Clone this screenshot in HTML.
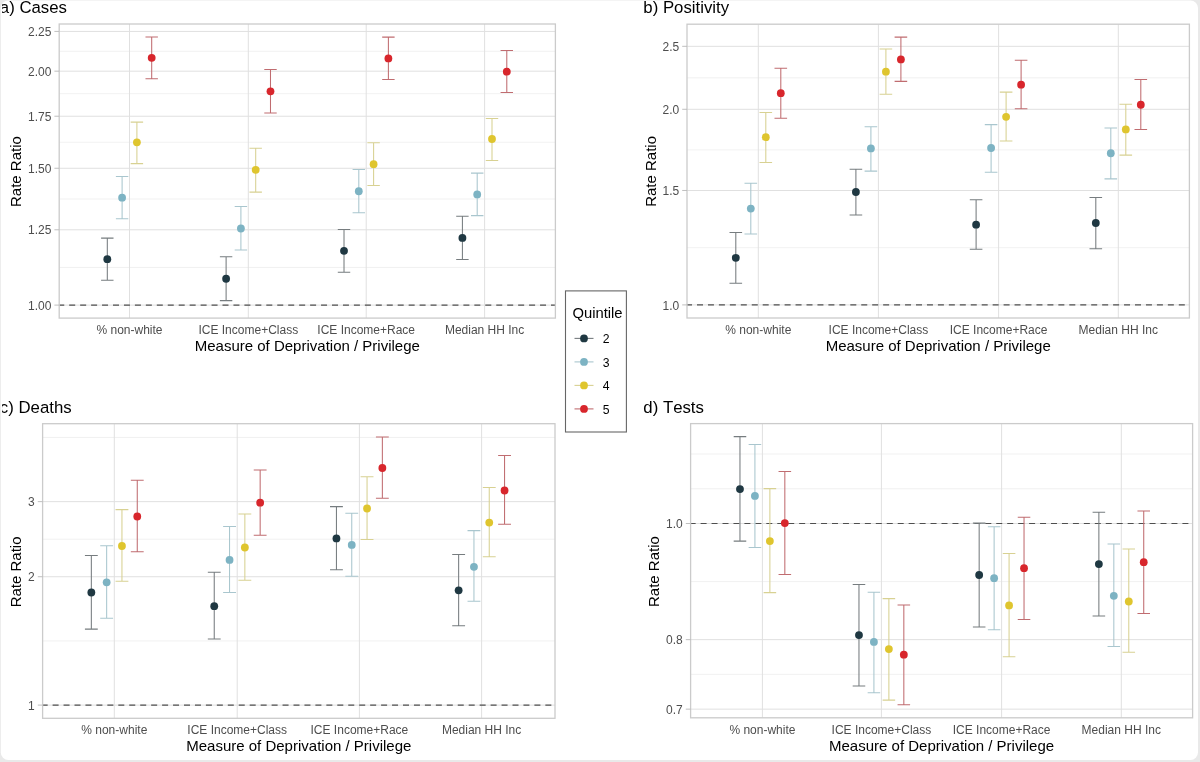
<!DOCTYPE html>
<html><head><meta charset="utf-8"><title>Rate Ratios</title>
<style>html,body{margin:0;padding:0;background:#fff;} svg{display:block;font-family:"Liberation Sans", sans-serif;will-change:transform;} text{font-family:"Liberation Sans", sans-serif;font-kerning:none;font-feature-settings:'kern' 0;}</style>
</head><body>
<svg width="1200" height="762" viewBox="0 0 1200 762">
<rect x="0" y="0" width="1200" height="762" fill="#e9e9e9"/>
<rect x="0.8" y="0.6" width="1197.2" height="759.4" rx="7.5" ry="7.5" fill="#ffffff"/>
<clipPath id="tclip" clipPathUnits="userSpaceOnUse"><rect x="2.0" y="0" width="1100" height="762"/></clipPath>
<clipPath id="cpa"><rect x="59.2" y="24.0" width="496.2" height="294.1"/></clipPath>
<g clip-path="url(#cpa)"><line x1="59.2" x2="555.4" y1="267.44" y2="267.44" stroke="#eeeeee" stroke-width="0.8"/><line x1="59.2" x2="555.4" y1="199.02" y2="199.02" stroke="#eeeeee" stroke-width="0.8"/><line x1="59.2" x2="555.4" y1="142.24" y2="142.24" stroke="#eeeeee" stroke-width="0.8"/><line x1="59.2" x2="555.4" y1="93.70" y2="93.70" stroke="#eeeeee" stroke-width="0.8"/><line x1="59.2" x2="555.4" y1="51.29" y2="51.29" stroke="#eeeeee" stroke-width="0.8"/><line x1="59.2" x2="555.4" y1="305.10" y2="305.10" stroke="#e0e0e0" stroke-width="1"/><line x1="59.2" x2="555.4" y1="229.79" y2="229.79" stroke="#e0e0e0" stroke-width="1"/><line x1="59.2" x2="555.4" y1="168.26" y2="168.26" stroke="#e0e0e0" stroke-width="1"/><line x1="59.2" x2="555.4" y1="116.23" y2="116.23" stroke="#e0e0e0" stroke-width="1"/><line x1="59.2" x2="555.4" y1="71.16" y2="71.16" stroke="#e0e0e0" stroke-width="1"/><line x1="59.2" x2="555.4" y1="31.41" y2="31.41" stroke="#e0e0e0" stroke-width="1"/><line x1="129.5" x2="129.5" y1="24.0" y2="318.1" stroke="#e0e0e0" stroke-width="1"/><line x1="248.3" x2="248.3" y1="24.0" y2="318.1" stroke="#e0e0e0" stroke-width="1"/><line x1="366.2" x2="366.2" y1="24.0" y2="318.1" stroke="#e0e0e0" stroke-width="1"/><line x1="484.6" x2="484.6" y1="24.0" y2="318.1" stroke="#e0e0e0" stroke-width="1"/><line x1="59.2" x2="555.4" y1="305.10" y2="305.10" stroke="#4f4f4f" stroke-width="1.15" stroke-dasharray="6 4.95" stroke-dashoffset="0.95"/></g>
<rect x="59.2" y="24.0" width="496.20" height="294.10" fill="none" stroke="#cbcbcb" stroke-width="1.3"/>
<line x1="54.40" x2="59.2" y1="305.10" y2="305.10" stroke="#b8b8b8" stroke-width="0.9"/>
<text x="51.40" y="309.70" text-anchor="end" font-size="12" fill="#4d4d4d">1.00</text>
<line x1="54.40" x2="59.2" y1="229.79" y2="229.79" stroke="#b8b8b8" stroke-width="0.9"/>
<text x="51.40" y="234.39" text-anchor="end" font-size="12" fill="#4d4d4d">1.25</text>
<line x1="54.40" x2="59.2" y1="168.26" y2="168.26" stroke="#b8b8b8" stroke-width="0.9"/>
<text x="51.40" y="172.86" text-anchor="end" font-size="12" fill="#4d4d4d">1.50</text>
<line x1="54.40" x2="59.2" y1="116.23" y2="116.23" stroke="#b8b8b8" stroke-width="0.9"/>
<text x="51.40" y="120.83" text-anchor="end" font-size="12" fill="#4d4d4d">1.75</text>
<line x1="54.40" x2="59.2" y1="71.16" y2="71.16" stroke="#b8b8b8" stroke-width="0.9"/>
<text x="51.40" y="75.76" text-anchor="end" font-size="12" fill="#4d4d4d">2.00</text>
<line x1="54.40" x2="59.2" y1="31.41" y2="31.41" stroke="#b8b8b8" stroke-width="0.9"/>
<text x="51.40" y="36.01" text-anchor="end" font-size="12" fill="#4d4d4d">2.25</text>
<text x="129.5" y="334.00" text-anchor="middle" font-size="12" fill="#4d4d4d">% non-white</text>
<text x="248.3" y="334.00" text-anchor="middle" font-size="12" fill="#4d4d4d">ICE Income+Class</text>
<text x="366.2" y="334.00" text-anchor="middle" font-size="12" fill="#4d4d4d">ICE Income+Race</text>
<text x="484.6" y="334.00" text-anchor="middle" font-size="12" fill="#4d4d4d">Median HH Inc</text>
<text x="307.30" y="351.00" text-anchor="middle" font-size="15" fill="#000">Measure of Deprivation / Privilege</text>
<text transform="translate(21.1,171.55) rotate(-90)" x="0" y="0" text-anchor="middle" font-size="15" fill="#000">Rate Ratio</text>
<text x="-0.2" y="12.6" font-size="16.8" fill="#000" clip-path="url(#tclip)">a) Cases</text>
<path d="M101.09 238.10H113.52M107.31 238.10V280.20M101.09 280.20H113.52" stroke="#767c7f" stroke-width="1.05" fill="none"/>
<path d="M115.89 176.50H128.32M122.10 176.50V218.75M115.89 218.75H128.32" stroke="#a9c6ce" stroke-width="1.05" fill="none"/>
<path d="M130.68 122.10H143.11M136.90 122.10V163.60M130.68 163.60H143.11" stroke="#d8d192" stroke-width="1.05" fill="none"/>
<path d="M145.48 36.90H157.91M151.69 36.90V78.80M145.48 78.80H157.91" stroke="#c06c70" stroke-width="1.05" fill="none"/>
<circle cx="107.31" cy="259.20" r="3.9" fill="#1f3842"/>
<circle cx="122.10" cy="197.70" r="3.9" fill="#7db3c3"/>
<circle cx="136.90" cy="142.30" r="3.9" fill="#dfc52e"/>
<circle cx="151.69" cy="57.80" r="3.9" fill="#d8262c"/>
<path d="M219.89 256.70H232.32M226.11 256.70V300.60M219.89 300.60H232.32" stroke="#767c7f" stroke-width="1.05" fill="none"/>
<path d="M234.69 206.50H247.12M240.90 206.50V250.00M234.69 250.00H247.12" stroke="#a9c6ce" stroke-width="1.05" fill="none"/>
<path d="M249.48 148.20H261.91M255.70 148.20V192.10M249.48 192.10H261.91" stroke="#d8d192" stroke-width="1.05" fill="none"/>
<path d="M264.28 69.40H276.71M270.49 69.40V113.00M264.28 113.00H276.71" stroke="#c06c70" stroke-width="1.05" fill="none"/>
<circle cx="226.11" cy="278.75" r="3.9" fill="#1f3842"/>
<circle cx="240.90" cy="228.50" r="3.9" fill="#7db3c3"/>
<circle cx="255.70" cy="169.80" r="3.9" fill="#dfc52e"/>
<circle cx="270.49" cy="91.30" r="3.9" fill="#d8262c"/>
<path d="M337.79 229.40H350.22M344.01 229.40V272.30M337.79 272.30H350.22" stroke="#767c7f" stroke-width="1.05" fill="none"/>
<path d="M352.59 169.40H365.02M358.80 169.40V212.70M352.59 212.70H365.02" stroke="#a9c6ce" stroke-width="1.05" fill="none"/>
<path d="M367.38 142.75H379.81M373.60 142.75V185.40M367.38 185.40H379.81" stroke="#d8d192" stroke-width="1.05" fill="none"/>
<path d="M382.18 37.10H394.61M388.39 37.10V79.40M382.18 79.40H394.61" stroke="#c06c70" stroke-width="1.05" fill="none"/>
<circle cx="344.01" cy="250.80" r="3.9" fill="#1f3842"/>
<circle cx="358.80" cy="191.25" r="3.9" fill="#7db3c3"/>
<circle cx="373.60" cy="164.20" r="3.9" fill="#dfc52e"/>
<circle cx="388.39" cy="58.40" r="3.9" fill="#d8262c"/>
<path d="M456.19 216.25H468.62M462.41 216.25V259.40M456.19 259.40H468.62" stroke="#767c7f" stroke-width="1.05" fill="none"/>
<path d="M470.99 173.10H483.42M477.20 173.10V215.60M470.99 215.60H483.42" stroke="#a9c6ce" stroke-width="1.05" fill="none"/>
<path d="M485.78 118.40H498.21M492.00 118.40V160.50M485.78 160.50H498.21" stroke="#d8d192" stroke-width="1.05" fill="none"/>
<path d="M500.58 50.50H513.01M506.79 50.50V92.50M500.58 92.50H513.01" stroke="#c06c70" stroke-width="1.05" fill="none"/>
<circle cx="462.41" cy="237.90" r="3.9" fill="#1f3842"/>
<circle cx="477.20" cy="194.40" r="3.9" fill="#7db3c3"/>
<circle cx="492.00" cy="139.00" r="3.9" fill="#dfc52e"/>
<circle cx="506.79" cy="71.70" r="3.9" fill="#d8262c"/>
<clipPath id="cpb"><rect x="687.0" y="24.2" width="502.4000000000001" height="293.8"/></clipPath>
<g clip-path="url(#cpb)"><line x1="687.0" x2="1189.4" y1="247.69" y2="247.69" stroke="#eeeeee" stroke-width="0.8"/><line x1="687.0" x2="1189.4" y1="149.89" y2="149.89" stroke="#eeeeee" stroke-width="0.8"/><line x1="687.0" x2="1189.4" y1="77.81" y2="77.81" stroke="#eeeeee" stroke-width="0.8"/><line x1="687.0" x2="1189.4" y1="304.90" y2="304.90" stroke="#e0e0e0" stroke-width="1"/><line x1="687.0" x2="1189.4" y1="190.48" y2="190.48" stroke="#e0e0e0" stroke-width="1"/><line x1="687.0" x2="1189.4" y1="109.29" y2="109.29" stroke="#e0e0e0" stroke-width="1"/><line x1="687.0" x2="1189.4" y1="46.32" y2="46.32" stroke="#e0e0e0" stroke-width="1"/><line x1="758.3" x2="758.3" y1="24.2" y2="318.0" stroke="#e0e0e0" stroke-width="1"/><line x1="878.4" x2="878.4" y1="24.2" y2="318.0" stroke="#e0e0e0" stroke-width="1"/><line x1="998.6" x2="998.6" y1="24.2" y2="318.0" stroke="#e0e0e0" stroke-width="1"/><line x1="1118.3" x2="1118.3" y1="24.2" y2="318.0" stroke="#e0e0e0" stroke-width="1"/><line x1="687.0" x2="1189.4" y1="304.90" y2="304.90" stroke="#4f4f4f" stroke-width="1.15" stroke-dasharray="6 4.95" stroke-dashoffset="0.95"/></g>
<rect x="687.0" y="24.2" width="502.40" height="293.80" fill="none" stroke="#cbcbcb" stroke-width="1.3"/>
<line x1="682.20" x2="687.0" y1="304.90" y2="304.90" stroke="#b8b8b8" stroke-width="0.9"/>
<text x="679.20" y="309.50" text-anchor="end" font-size="12" fill="#4d4d4d">1.0</text>
<line x1="682.20" x2="687.0" y1="190.48" y2="190.48" stroke="#b8b8b8" stroke-width="0.9"/>
<text x="679.20" y="195.08" text-anchor="end" font-size="12" fill="#4d4d4d">1.5</text>
<line x1="682.20" x2="687.0" y1="109.29" y2="109.29" stroke="#b8b8b8" stroke-width="0.9"/>
<text x="679.20" y="113.89" text-anchor="end" font-size="12" fill="#4d4d4d">2.0</text>
<line x1="682.20" x2="687.0" y1="46.32" y2="46.32" stroke="#b8b8b8" stroke-width="0.9"/>
<text x="679.20" y="50.92" text-anchor="end" font-size="12" fill="#4d4d4d">2.5</text>
<text x="758.3" y="333.90" text-anchor="middle" font-size="12" fill="#4d4d4d">% non-white</text>
<text x="878.4" y="333.90" text-anchor="middle" font-size="12" fill="#4d4d4d">ICE Income+Class</text>
<text x="998.6" y="333.90" text-anchor="middle" font-size="12" fill="#4d4d4d">ICE Income+Race</text>
<text x="1118.3" y="333.90" text-anchor="middle" font-size="12" fill="#4d4d4d">Median HH Inc</text>
<text x="938.20" y="350.90" text-anchor="middle" font-size="15" fill="#000">Measure of Deprivation / Privilege</text>
<text transform="translate(655.8,171.40) rotate(-90)" x="0" y="0" text-anchor="middle" font-size="15" fill="#000">Rate Ratio</text>
<text x="643.3" y="12.5" font-size="16.8" fill="#000">b) Positivity</text>
<path d="M729.50 232.50H742.10M735.80 232.50V283.30M729.50 283.30H742.10" stroke="#767c7f" stroke-width="1.05" fill="none"/>
<path d="M744.50 183.30H757.10M750.80 183.30V233.90M744.50 233.90H757.10" stroke="#a9c6ce" stroke-width="1.05" fill="none"/>
<path d="M759.50 112.55H772.10M765.80 112.55V162.50M759.50 162.50H772.10" stroke="#d8d192" stroke-width="1.05" fill="none"/>
<path d="M774.50 68.30H787.10M780.80 68.30V118.20M774.50 118.20H787.10" stroke="#c06c70" stroke-width="1.05" fill="none"/>
<circle cx="735.80" cy="257.80" r="3.9" fill="#1f3842"/>
<circle cx="750.80" cy="208.60" r="3.9" fill="#7db3c3"/>
<circle cx="765.80" cy="137.20" r="3.9" fill="#dfc52e"/>
<circle cx="780.80" cy="93.15" r="3.9" fill="#d8262c"/>
<path d="M849.60 169.20H862.20M855.90 169.20V215.00M849.60 215.00H862.20" stroke="#767c7f" stroke-width="1.05" fill="none"/>
<path d="M864.60 126.70H877.20M870.90 126.70V171.10M864.60 171.10H877.20" stroke="#a9c6ce" stroke-width="1.05" fill="none"/>
<path d="M879.60 48.90H892.20M885.90 48.90V94.20M879.60 94.20H892.20" stroke="#d8d192" stroke-width="1.05" fill="none"/>
<path d="M894.60 37.10H907.20M900.90 37.10V81.35M894.60 81.35H907.20" stroke="#c06c70" stroke-width="1.05" fill="none"/>
<circle cx="855.90" cy="192.00" r="3.9" fill="#1f3842"/>
<circle cx="870.90" cy="148.40" r="3.9" fill="#7db3c3"/>
<circle cx="885.90" cy="71.65" r="3.9" fill="#dfc52e"/>
<circle cx="900.90" cy="59.40" r="3.9" fill="#d8262c"/>
<path d="M969.80 199.80H982.40M976.10 199.80V249.30M969.80 249.30H982.40" stroke="#767c7f" stroke-width="1.05" fill="none"/>
<path d="M984.80 124.60H997.40M991.10 124.60V172.30M984.80 172.30H997.40" stroke="#a9c6ce" stroke-width="1.05" fill="none"/>
<path d="M999.80 92.10H1012.40M1006.10 92.10V141.00M999.80 141.00H1012.40" stroke="#d8d192" stroke-width="1.05" fill="none"/>
<path d="M1014.80 60.30H1027.40M1021.10 60.30V108.75M1014.80 108.75H1027.40" stroke="#c06c70" stroke-width="1.05" fill="none"/>
<circle cx="976.10" cy="224.70" r="3.9" fill="#1f3842"/>
<circle cx="991.10" cy="148.00" r="3.9" fill="#7db3c3"/>
<circle cx="1006.10" cy="116.80" r="3.9" fill="#dfc52e"/>
<circle cx="1021.10" cy="84.70" r="3.9" fill="#d8262c"/>
<path d="M1089.50 197.50H1102.10M1095.80 197.50V248.70M1089.50 248.70H1102.10" stroke="#767c7f" stroke-width="1.05" fill="none"/>
<path d="M1104.50 127.90H1117.10M1110.80 127.90V178.85M1104.50 178.85H1117.10" stroke="#a9c6ce" stroke-width="1.05" fill="none"/>
<path d="M1119.50 104.30H1132.10M1125.80 104.30V155.10M1119.50 155.10H1132.10" stroke="#d8d192" stroke-width="1.05" fill="none"/>
<path d="M1134.50 79.45H1147.10M1140.80 79.45V129.40M1134.50 129.40H1147.10" stroke="#c06c70" stroke-width="1.05" fill="none"/>
<circle cx="1095.80" cy="223.00" r="3.9" fill="#1f3842"/>
<circle cx="1110.80" cy="153.25" r="3.9" fill="#7db3c3"/>
<circle cx="1125.80" cy="129.40" r="3.9" fill="#dfc52e"/>
<circle cx="1140.80" cy="104.75" r="3.9" fill="#d8262c"/>
<clipPath id="cpc"><rect x="42.6" y="423.7" width="512.4" height="294.59999999999997"/></clipPath>
<g clip-path="url(#cpc)"><line x1="42.6" x2="555.0" y1="640.91" y2="640.91" stroke="#eeeeee" stroke-width="0.8"/><line x1="42.6" x2="555.0" y1="539.18" y2="539.18" stroke="#eeeeee" stroke-width="0.8"/><line x1="42.6" x2="555.0" y1="437.45" y2="437.45" stroke="#eeeeee" stroke-width="0.8"/><line x1="42.6" x2="555.0" y1="705.10" y2="705.10" stroke="#e0e0e0" stroke-width="1"/><line x1="42.6" x2="555.0" y1="576.73" y2="576.73" stroke="#e0e0e0" stroke-width="1"/><line x1="42.6" x2="555.0" y1="501.64" y2="501.64" stroke="#e0e0e0" stroke-width="1"/><line x1="114.3" x2="114.3" y1="423.7" y2="718.3" stroke="#e0e0e0" stroke-width="1"/><line x1="237.2" x2="237.2" y1="423.7" y2="718.3" stroke="#e0e0e0" stroke-width="1"/><line x1="359.4" x2="359.4" y1="423.7" y2="718.3" stroke="#e0e0e0" stroke-width="1"/><line x1="481.6" x2="481.6" y1="423.7" y2="718.3" stroke="#e0e0e0" stroke-width="1"/><line x1="42.6" x2="555.0" y1="705.10" y2="705.10" stroke="#4f4f4f" stroke-width="1.15" stroke-dasharray="6 4.95" stroke-dashoffset="0.95"/></g>
<rect x="42.6" y="423.7" width="512.40" height="294.60" fill="none" stroke="#cbcbcb" stroke-width="1.3"/>
<line x1="37.80" x2="42.6" y1="705.10" y2="705.10" stroke="#b8b8b8" stroke-width="0.9"/>
<text x="34.80" y="709.70" text-anchor="end" font-size="12" fill="#4d4d4d">1</text>
<line x1="37.80" x2="42.6" y1="576.73" y2="576.73" stroke="#b8b8b8" stroke-width="0.9"/>
<text x="34.80" y="581.33" text-anchor="end" font-size="12" fill="#4d4d4d">2</text>
<line x1="37.80" x2="42.6" y1="501.64" y2="501.64" stroke="#b8b8b8" stroke-width="0.9"/>
<text x="34.80" y="506.24" text-anchor="end" font-size="12" fill="#4d4d4d">3</text>
<text x="114.3" y="734.20" text-anchor="middle" font-size="12" fill="#4d4d4d">% non-white</text>
<text x="237.2" y="734.20" text-anchor="middle" font-size="12" fill="#4d4d4d">ICE Income+Class</text>
<text x="359.4" y="734.20" text-anchor="middle" font-size="12" fill="#4d4d4d">ICE Income+Race</text>
<text x="481.6" y="734.20" text-anchor="middle" font-size="12" fill="#4d4d4d">Median HH Inc</text>
<text x="298.80" y="751.20" text-anchor="middle" font-size="15" fill="#000">Measure of Deprivation / Privilege</text>
<text transform="translate(21.2,571.90) rotate(-90)" x="0" y="0" text-anchor="middle" font-size="15" fill="#000">Rate Ratio</text>
<text x="-0.2" y="412.8" font-size="16.8" fill="#000" clip-path="url(#tclip)">c) Deaths</text>
<path d="M84.92 555.50H97.77M91.34 555.50V629.10M84.92 629.10H97.77" stroke="#767c7f" stroke-width="1.05" fill="none"/>
<path d="M100.22 545.80H113.08M106.65 545.80V618.30M100.22 618.30H113.08" stroke="#a9c6ce" stroke-width="1.05" fill="none"/>
<path d="M115.52 509.60H128.38M121.95 509.60V581.25M115.52 581.25H128.38" stroke="#d8d192" stroke-width="1.05" fill="none"/>
<path d="M130.83 480.30H143.68M137.26 480.30V551.80M130.83 551.80H143.68" stroke="#c06c70" stroke-width="1.05" fill="none"/>
<circle cx="91.34" cy="592.50" r="3.9" fill="#1f3842"/>
<circle cx="106.65" cy="582.30" r="3.9" fill="#7db3c3"/>
<circle cx="121.95" cy="546.00" r="3.9" fill="#dfc52e"/>
<circle cx="137.26" cy="516.50" r="3.9" fill="#d8262c"/>
<path d="M207.82 572.30H220.67M214.24 572.30V638.90M207.82 638.90H220.67" stroke="#767c7f" stroke-width="1.05" fill="none"/>
<path d="M223.12 526.50H235.98M229.55 526.50V592.50M223.12 592.50H235.98" stroke="#a9c6ce" stroke-width="1.05" fill="none"/>
<path d="M238.42 513.90H251.28M244.85 513.90V580.20M238.42 580.20H251.28" stroke="#d8d192" stroke-width="1.05" fill="none"/>
<path d="M253.73 469.90H266.58M260.16 469.90V535.20M253.73 535.20H266.58" stroke="#c06c70" stroke-width="1.05" fill="none"/>
<circle cx="214.24" cy="606.20" r="3.9" fill="#1f3842"/>
<circle cx="229.55" cy="559.90" r="3.9" fill="#7db3c3"/>
<circle cx="244.85" cy="547.50" r="3.9" fill="#dfc52e"/>
<circle cx="260.16" cy="502.70" r="3.9" fill="#d8262c"/>
<path d="M330.02 506.60H342.87M336.44 506.60V569.80M330.02 569.80H342.87" stroke="#767c7f" stroke-width="1.05" fill="none"/>
<path d="M345.32 513.30H358.18M351.75 513.30V576.30M345.32 576.30H358.18" stroke="#a9c6ce" stroke-width="1.05" fill="none"/>
<path d="M360.62 476.70H373.48M367.05 476.70V539.50M360.62 539.50H373.48" stroke="#d8d192" stroke-width="1.05" fill="none"/>
<path d="M375.93 437.00H388.78M382.36 437.00V498.30M375.93 498.30H388.78" stroke="#c06c70" stroke-width="1.05" fill="none"/>
<circle cx="336.44" cy="538.40" r="3.9" fill="#1f3842"/>
<circle cx="351.75" cy="544.90" r="3.9" fill="#7db3c3"/>
<circle cx="367.05" cy="508.50" r="3.9" fill="#dfc52e"/>
<circle cx="382.36" cy="468.00" r="3.9" fill="#d8262c"/>
<path d="M452.22 554.40H465.07M458.64 554.40V625.70M452.22 625.70H465.07" stroke="#767c7f" stroke-width="1.05" fill="none"/>
<path d="M467.52 530.60H480.38M473.95 530.60V601.20M467.52 601.20H480.38" stroke="#a9c6ce" stroke-width="1.05" fill="none"/>
<path d="M482.82 487.50H495.68M489.25 487.50V556.80M482.82 556.80H495.68" stroke="#d8d192" stroke-width="1.05" fill="none"/>
<path d="M498.13 455.40H510.98M504.56 455.40V524.30M498.13 524.30H510.98" stroke="#c06c70" stroke-width="1.05" fill="none"/>
<circle cx="458.64" cy="590.35" r="3.9" fill="#1f3842"/>
<circle cx="473.95" cy="566.80" r="3.9" fill="#7db3c3"/>
<circle cx="489.25" cy="522.60" r="3.9" fill="#dfc52e"/>
<circle cx="504.56" cy="490.50" r="3.9" fill="#d8262c"/>
<clipPath id="cpd"><rect x="690.6" y="423.6" width="501.9999999999999" height="294.19999999999993"/></clipPath>
<g clip-path="url(#cpd)"><line x1="690.6" x2="1192.6" y1="674.40" y2="674.40" stroke="#eeeeee" stroke-width="0.8"/><line x1="690.6" x2="1192.6" y1="581.57" y2="581.57" stroke="#eeeeee" stroke-width="0.8"/><line x1="690.6" x2="1192.6" y1="488.75" y2="488.75" stroke="#eeeeee" stroke-width="0.8"/><line x1="690.6" x2="1192.6" y1="454.00" y2="454.00" stroke="#eeeeee" stroke-width="0.8"/><line x1="690.6" x2="1192.6" y1="709.15" y2="709.15" stroke="#e0e0e0" stroke-width="1"/><line x1="690.6" x2="1192.6" y1="639.65" y2="639.65" stroke="#e0e0e0" stroke-width="1"/><line x1="690.6" x2="1192.6" y1="523.50" y2="523.50" stroke="#e0e0e0" stroke-width="1"/><line x1="762.4" x2="762.4" y1="423.6" y2="717.8" stroke="#e0e0e0" stroke-width="1"/><line x1="881.4" x2="881.4" y1="423.6" y2="717.8" stroke="#e0e0e0" stroke-width="1"/><line x1="1001.6" x2="1001.6" y1="423.6" y2="717.8" stroke="#e0e0e0" stroke-width="1"/><line x1="1121.3" x2="1121.3" y1="423.6" y2="717.8" stroke="#e0e0e0" stroke-width="1"/><line x1="690.6" x2="1192.6" y1="523.50" y2="523.50" stroke="#4f4f4f" stroke-width="1.15" stroke-dasharray="6 4.95" stroke-dashoffset="0.95"/></g>
<rect x="690.6" y="423.6" width="502.00" height="294.20" fill="none" stroke="#cbcbcb" stroke-width="1.3"/>
<line x1="685.80" x2="690.6" y1="709.15" y2="709.15" stroke="#b8b8b8" stroke-width="0.9"/>
<text x="682.80" y="713.75" text-anchor="end" font-size="12" fill="#4d4d4d">0.7</text>
<line x1="685.80" x2="690.6" y1="639.65" y2="639.65" stroke="#b8b8b8" stroke-width="0.9"/>
<text x="682.80" y="644.25" text-anchor="end" font-size="12" fill="#4d4d4d">0.8</text>
<line x1="685.80" x2="690.6" y1="523.50" y2="523.50" stroke="#b8b8b8" stroke-width="0.9"/>
<text x="682.80" y="528.10" text-anchor="end" font-size="12" fill="#4d4d4d">1.0</text>
<text x="762.4" y="733.70" text-anchor="middle" font-size="12" fill="#4d4d4d">% non-white</text>
<text x="881.4" y="733.70" text-anchor="middle" font-size="12" fill="#4d4d4d">ICE Income+Class</text>
<text x="1001.6" y="733.70" text-anchor="middle" font-size="12" fill="#4d4d4d">ICE Income+Race</text>
<text x="1121.3" y="733.70" text-anchor="middle" font-size="12" fill="#4d4d4d">Median HH Inc</text>
<text x="941.60" y="750.70" text-anchor="middle" font-size="15" fill="#000">Measure of Deprivation / Privilege</text>
<text transform="translate(659.3,571.60) rotate(-90)" x="0" y="0" text-anchor="middle" font-size="15" fill="#000">Rate Ratio</text>
<text x="643.3" y="412.5" font-size="16.8" fill="#000">d) Tests</text>
<path d="M733.69 436.60H746.25M739.97 436.60V541.10M733.69 541.10H746.25" stroke="#767c7f" stroke-width="1.05" fill="none"/>
<path d="M748.64 444.40H761.20M754.92 444.40V547.50M748.64 547.50H761.20" stroke="#a9c6ce" stroke-width="1.05" fill="none"/>
<path d="M763.60 488.60H776.16M769.88 488.60V592.60M763.60 592.60H776.16" stroke="#d8d192" stroke-width="1.05" fill="none"/>
<path d="M778.55 471.40H791.11M784.83 471.40V574.40M778.55 574.40H791.11" stroke="#c06c70" stroke-width="1.05" fill="none"/>
<circle cx="739.97" cy="489.10" r="3.9" fill="#1f3842"/>
<circle cx="754.92" cy="495.90" r="3.9" fill="#7db3c3"/>
<circle cx="769.88" cy="541.10" r="3.9" fill="#dfc52e"/>
<circle cx="784.83" cy="523.10" r="3.9" fill="#d8262c"/>
<path d="M852.69 584.50H865.25M858.97 584.50V685.90M852.69 685.90H865.25" stroke="#767c7f" stroke-width="1.05" fill="none"/>
<path d="M867.64 592.20H880.20M873.92 592.20V692.70M867.64 692.70H880.20" stroke="#a9c6ce" stroke-width="1.05" fill="none"/>
<path d="M882.60 598.60H895.16M888.88 598.60V700.10M882.60 700.10H895.16" stroke="#d8d192" stroke-width="1.05" fill="none"/>
<path d="M897.55 605.00H910.11M903.83 605.00V704.80M897.55 704.80H910.11" stroke="#c06c70" stroke-width="1.05" fill="none"/>
<circle cx="858.97" cy="635.10" r="3.9" fill="#1f3842"/>
<circle cx="873.92" cy="641.90" r="3.9" fill="#7db3c3"/>
<circle cx="888.88" cy="649.10" r="3.9" fill="#dfc52e"/>
<circle cx="903.83" cy="654.70" r="3.9" fill="#d8262c"/>
<path d="M972.89 523.10H985.45M979.17 523.10V627.05M972.89 627.05H985.45" stroke="#767c7f" stroke-width="1.05" fill="none"/>
<path d="M987.84 526.70H1000.40M994.12 526.70V629.80M987.84 629.80H1000.40" stroke="#a9c6ce" stroke-width="1.05" fill="none"/>
<path d="M1002.80 553.40H1015.36M1009.08 553.40V656.80M1002.80 656.80H1015.36" stroke="#d8d192" stroke-width="1.05" fill="none"/>
<path d="M1017.75 517.30H1030.31M1024.03 517.30V619.40M1017.75 619.40H1030.31" stroke="#c06c70" stroke-width="1.05" fill="none"/>
<circle cx="979.17" cy="575.00" r="3.9" fill="#1f3842"/>
<circle cx="994.12" cy="578.20" r="3.9" fill="#7db3c3"/>
<circle cx="1009.08" cy="605.40" r="3.9" fill="#dfc52e"/>
<circle cx="1024.03" cy="568.20" r="3.9" fill="#d8262c"/>
<path d="M1092.59 512.20H1105.15M1098.87 512.20V616.00M1092.59 616.00H1105.15" stroke="#767c7f" stroke-width="1.05" fill="none"/>
<path d="M1107.54 543.90H1120.10M1113.82 543.90V646.40M1107.54 646.40H1120.10" stroke="#a9c6ce" stroke-width="1.05" fill="none"/>
<path d="M1122.50 549.00H1135.06M1128.78 549.00V652.30M1122.50 652.30H1135.06" stroke="#d8d192" stroke-width="1.05" fill="none"/>
<path d="M1137.45 511.00H1150.01M1143.73 511.00V613.40M1137.45 613.40H1150.01" stroke="#c06c70" stroke-width="1.05" fill="none"/>
<circle cx="1098.87" cy="564.10" r="3.9" fill="#1f3842"/>
<circle cx="1113.82" cy="595.80" r="3.9" fill="#7db3c3"/>
<circle cx="1128.78" cy="601.50" r="3.9" fill="#dfc52e"/>
<circle cx="1143.73" cy="562.20" r="3.9" fill="#d8262c"/>
<rect x="565.5" y="290.9" width="60.9" height="141.1" fill="#fff" stroke="#666" stroke-width="1.1"/>
<text x="572.4" y="317.8" font-size="14.8" fill="#000">Quintile</text>
<line x1="574.5" x2="593.5" y1="338.40" y2="338.40" stroke="#767c7f" stroke-width="1.1"/>
<circle cx="584" cy="338.40" r="3.9" fill="#1f3842"/>
<text x="602.7" y="343.10" font-size="12.2" fill="#000">2</text>
<line x1="574.5" x2="593.5" y1="361.90" y2="361.90" stroke="#a9c6ce" stroke-width="1.1"/>
<circle cx="584" cy="361.90" r="3.9" fill="#7db3c3"/>
<text x="602.7" y="366.60" font-size="12.2" fill="#000">3</text>
<line x1="574.5" x2="593.5" y1="385.40" y2="385.40" stroke="#d8d192" stroke-width="1.1"/>
<circle cx="584" cy="385.40" r="3.9" fill="#dfc52e"/>
<text x="602.7" y="390.10" font-size="12.2" fill="#000">4</text>
<line x1="574.5" x2="593.5" y1="408.90" y2="408.90" stroke="#c06c70" stroke-width="1.1"/>
<circle cx="584" cy="408.90" r="3.9" fill="#d8262c"/>
<text x="602.7" y="413.60" font-size="12.2" fill="#000">5</text>
</svg>
</body></html>
